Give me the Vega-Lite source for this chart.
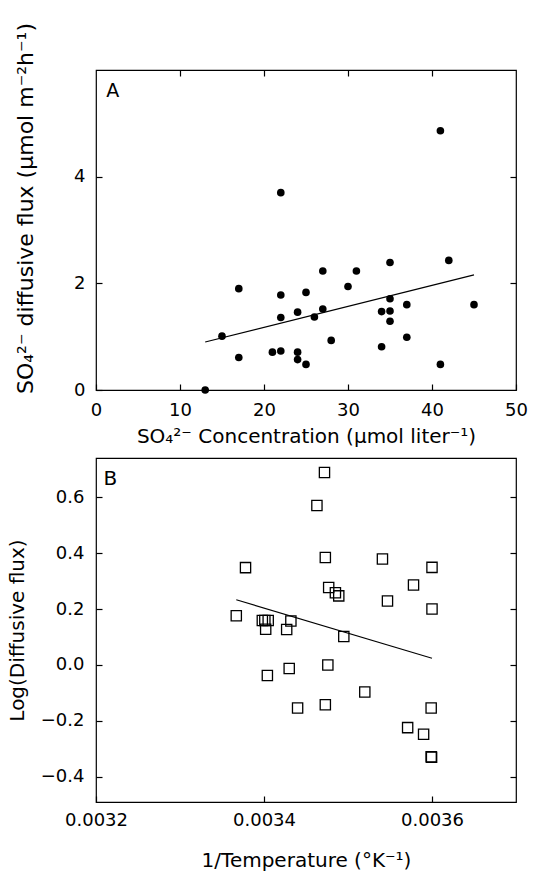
{
  "$schema": "https://vega.github.io/schema/vega-lite/v6.json",
  "padding": {"left": 6, "top": 21, "right": 10, "bottom": 0},
  "background": "white",
  "config": {
    "view": {"stroke": "black", "strokeWidth": 1.2},
    "axis": {
      "grid": false, "domain": false, "ticks": true, "tickSize": -6,
      "tickColor": "black", "tickWidth": 1.2,
      "labelFont": "DejaVu Sans", "labelFontSize": 18, "labelColor": "black",
      "labelFlush": false, "labelOverlap": false,
      "titleFont": "DejaVu Sans", "titleFontSize": 20, "titleFontWeight": "normal", "titleColor": "black"
    }
  },
  "datasets": {
    "fluxA": [
      {"conc": 13, "flux": 0.0}, {"conc": 15, "flux": 1.01}, {"conc": 17, "flux": 1.90}, {"conc": 17, "flux": 0.61},
      {"conc": 21, "flux": 0.71}, {"conc": 22, "flux": 3.70}, {"conc": 22, "flux": 1.78}, {"conc": 22, "flux": 1.36},
      {"conc": 22, "flux": 0.73}, {"conc": 24, "flux": 1.46}, {"conc": 24, "flux": 0.71}, {"conc": 24, "flux": 0.57},
      {"conc": 25, "flux": 1.83}, {"conc": 25, "flux": 0.48}, {"conc": 26, "flux": 1.37}, {"conc": 27, "flux": 2.23},
      {"conc": 27, "flux": 1.52}, {"conc": 28, "flux": 0.93}, {"conc": 30, "flux": 1.94}, {"conc": 31, "flux": 2.23},
      {"conc": 34, "flux": 1.47}, {"conc": 34, "flux": 0.81}, {"conc": 35, "flux": 2.39}, {"conc": 35, "flux": 1.71},
      {"conc": 35, "flux": 1.48}, {"conc": 35, "flux": 1.29}, {"conc": 37, "flux": 1.60}, {"conc": 37, "flux": 0.99},
      {"conc": 41, "flux": 4.86}, {"conc": 41, "flux": 0.48}, {"conc": 42, "flux": 2.43}, {"conc": 45, "flux": 1.60}
    ],
    "lineA": [{"conc": 13, "flux": 0.90}, {"conc": 45, "flux": 2.16}],
    "labelA": [{"label": "A", "conc": 2.0, "flux": 5.6}],
    "fluxB": [
      {"invT": 0.003472, "logF": 0.688}, {"invT": 0.003463, "logF": 0.570}, {"invT": 0.003473, "logF": 0.384},
      {"invT": 0.003378, "logF": 0.348}, {"invT": 0.003541, "logF": 0.379}, {"invT": 0.0036, "logF": 0.349},
      {"invT": 0.003578, "logF": 0.286}, {"invT": 0.003477, "logF": 0.277}, {"invT": 0.003485, "logF": 0.258},
      {"invT": 0.003489, "logF": 0.247}, {"invT": 0.003547, "logF": 0.229}, {"invT": 0.0036, "logF": 0.200},
      {"invT": 0.003367, "logF": 0.176}, {"invT": 0.003398, "logF": 0.159}, {"invT": 0.003401, "logF": 0.159},
      {"invT": 0.003405, "logF": 0.159}, {"invT": 0.003432, "logF": 0.157}, {"invT": 0.003402, "logF": 0.128},
      {"invT": 0.003427, "logF": 0.127}, {"invT": 0.003495, "logF": 0.102}, {"invT": 0.003476, "logF": 0.0},
      {"invT": 0.00343, "logF": -0.013}, {"invT": 0.003404, "logF": -0.038}, {"invT": 0.00352, "logF": -0.097},
      {"invT": 0.003473, "logF": -0.142}, {"invT": 0.00344, "logF": -0.154}, {"invT": 0.003599, "logF": -0.154},
      {"invT": 0.003571, "logF": -0.224}, {"invT": 0.00359, "logF": -0.248}, {"invT": 0.003599, "logF": -0.328},
      {"invT": 0.0035995, "logF": -0.33}
    ],
    "lineB": [{"invT": 0.003367, "logF": 0.233}, {"invT": 0.0036, "logF": 0.024}],
    "labelB": [{"label": "B", "invT": 0.003217, "logF": 0.665}]
  },
  "vconcat": [
    {
      "width": 420, "height": 320,
      "resolve": {"axis": {"x": "independent", "y": "independent"}},
      "layer": [
        {
          "data": {"name": "fluxA"},
          "mark": {"type": "point", "shape": "circle", "filled": true, "color": "black", "size": 58, "opacity": 1},
          "encoding": {
            "x": {"field": "conc", "type": "quantitative", "scale": {"domain": [0, 50], "nice": false},
              "axis": {"orient": "bottom", "values": [0, 10, 20, 30, 40, 50], "labelPadding": 26, "labelBaseline": "middle",
                "title": "SO₄²⁻ Concentration (μmol liter⁻¹)", "titleY": 46, "titleBaseline": "middle"}},
            "y": {"field": "flux", "type": "quantitative", "scale": {"domain": [0, 6], "nice": false},
              "axis": {"orient": "left", "values": [0, 2, 4], "labelPadding": 17,
                "title": "SO₄²⁻ diffusive flux (μmol m⁻²h⁻¹)", "titleFontSize": 22, "titleX": -71, "titleY": 138, "titleBaseline": "middle"}}
          }
        },
        {
          "data": {"name": "lineA"},
          "mark": {"type": "line", "color": "black", "strokeWidth": 1.2},
          "encoding": {
            "x": {"field": "conc", "type": "quantitative", "axis": {"orient": "top", "values": [10, 20, 30, 40], "labels": false, "title": null}},
            "y": {"field": "flux", "type": "quantitative", "axis": {"orient": "right", "values": [2, 4], "labels": false, "title": null}}
          }
        },
        {
          "data": {"name": "labelA"},
          "mark": {"type": "text", "font": "DejaVu Sans", "fontSize": 19, "color": "black"},
          "encoding": {
            "x": {"field": "conc", "type": "quantitative", "axis": null},
            "y": {"field": "flux", "type": "quantitative", "axis": null},
            "text": {"field": "label"}
          }
        }
      ]
    },
    {
      "width": 420, "height": 344,
      "resolve": {"axis": {"x": "independent", "y": "independent"}},
      "layer": [
        {
          "data": {"name": "fluxB"},
          "mark": {"type": "point", "shape": "square", "filled": false, "color": "black", "size": 105, "strokeWidth": 1.3, "opacity": 1},
          "encoding": {
            "x": {"field": "invT", "type": "quantitative", "scale": {"domain": [0.0032, 0.0037], "nice": false, "zero": false},
              "axis": {"orient": "bottom", "values": [0.0032, 0.0034, 0.0036], "format": ".4f", "labelPadding": 24, "labelBaseline": "middle",
                "title": "1/Temperature (°K⁻¹)", "titleY": 58, "titleBaseline": "middle"}},
            "y": {"field": "logF", "type": "quantitative", "scale": {"domain": [-0.49, 0.74], "nice": false, "zero": false},
              "axis": {"orient": "left", "values": [-0.4, -0.2, 0, 0.2, 0.4, 0.6], "format": ".1f", "labelPadding": 18,
                "title": "Log(Diffusive flux)", "titleX": -79, "titleBaseline": "middle"}}
          }
        },
        {
          "data": {"name": "lineB"},
          "mark": {"type": "line", "color": "black", "strokeWidth": 1.2},
          "encoding": {
            "x": {"field": "invT", "type": "quantitative", "axis": null},
            "y": {"field": "logF", "type": "quantitative", "axis": {"orient": "right", "values": [-0.4, -0.2, 0, 0.2, 0.4, 0.6], "labels": false, "title": null}}
          }
        },
        {
          "data": {"name": "labelB"},
          "mark": {"type": "text", "font": "DejaVu Sans", "fontSize": 20, "color": "black"},
          "encoding": {
            "x": {"field": "invT", "type": "quantitative", "axis": null},
            "y": {"field": "logF", "type": "quantitative", "axis": null},
            "text": {"field": "label"}
          }
        }
      ]
    }
  ],
  "spacing": 68,
  "bounds": "flush"
}
